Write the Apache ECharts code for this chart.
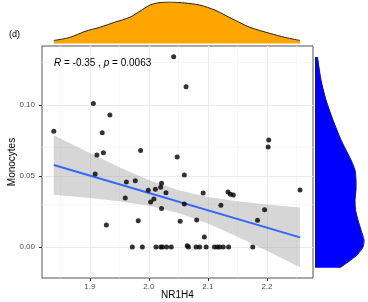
<!DOCTYPE html>
<html>
<head>
<meta charset="utf-8">
<script src="https://cdn.jsdelivr.net/npm/echarts@6/dist/echarts.min.js"></script>
<style>
html, body { margin: 0; padding: 0; background: #fff; }
#main { width: 368px; height: 302px; }
</style>
</head>
<body>
<div id="main"></div>
<script>
// 散点数据 (NR1H4 vs Monocytes)
var nr1h4 = [2.042, 1.906, 1.934, 1.839, 1.921, 1.986, 1.923, 1.912, 2.048, 2.063,
             2.203, 2.202, 1.909, 1.962, 1.977, 1.960, 1.999, 2.011, 2.020, 2.0215,
             2.029, 2.0085, 2.003, 2.0215, 1.928, 1.982, 1.972, 1.989, 2.012, 2.020,
             2.023, 2.030, 2.038, 2.060, 2.092, 2.134, 2.138, 2.143, 2.256, 2.060,
             2.122, 2.196, 2.053, 2.081, 2.184, 2.094, 2.065, 2.067, 2.080, 2.086,
             2.097, 2.111, 2.116, 2.120, 2.126, 2.135, 2.176];
var monocytes = [0.134, 0.101, 0.093, 0.0815, 0.0805, 0.068, 0.0664, 0.0648, 0.0633, 0.1129,
                 0.0754, 0.0704, 0.0514, 0.0458, 0.0467, 0.0345, 0.0399, 0.0406, 0.042, 0.0449,
                 0.0382, 0.0338, 0.0317, 0.0272, 0.0155, 0.0185, 0, 0, 0, 0,
                 0, 0, 0, 0.0507, 0.038, 0.0387, 0.0371, 0.0366, 0.0401, 0.0303,
                 0.0294, 0.0263, 0.0181, 0.019, 0.0188, 0.007, 0.0009, 0, 0, 0,
                 0, 0, 0, 0, 0, 0, 0];

// 回归线和置信带
var fitX = [1.839, 2.256];
var fitY = [0.0577, 0.0068];
var bandX = [1.839, 1.9, 1.95, 2.0, 2.05, 2.1, 2.15, 2.2, 2.256];
var bandLow = [0.0368, 0.0345, 0.0322, 0.0290, 0.0240, 0.0165, 0.0073, -0.0026, -0.0142];
var bandHigh = [0.0786, 0.0661, 0.0562, 0.0472, 0.0400, 0.0353, 0.0323, 0.0300, 0.0278];

// 边缘密度
var topDensX = [1.839, 1.866, 1.892, 1.917, 1.942, 1.968, 1.985, 2.002, 2.019, 2.036,
                2.061, 2.086, 2.112, 2.129, 2.146, 2.171, 2.205, 2.231, 2.256];
var topDensVal = [3, 6, 12, 16, 21, 26, 32, 38, 40.5, 41,
                  40, 38, 33, 28, 23, 16, 10, 6, 3];
var sideDensY = [0.1338, 0.1176, 0.1035, 0.0894, 0.0754, 0.0683, 0.0613, 0.0542, 0.0472, 0.0401,
                 0.0331, 0.0261, 0.0190, 0.0120, 0.0049, 0, -0.0056, -0.0106, -0.0146];
var sideDensVal = [2.5, 6, 11, 18, 26, 31, 36, 40, 41, 41,
                   40, 40.5, 43, 46, 49, 48, 42, 33, 25];

// 刻度
var xTicks = [1.9, 2.0, 2.1, 2.2];
var xMinor = [1.85, 1.95, 2.05, 2.15, 2.25];
var yTicks = [0, 0.05, 0.10];
var yMinor = [0.025, 0.075, 0.125];

var xMin = 1.819, xMax = 2.278;
var yMin = -0.0218, yMax = 0.1415;
var font = 'Liberation Sans, Arial, sans-serif';

var myChart = echarts.init(document.getElementById('main'));

var points = nr1h4.map(function (x, i) { return [x, monocytes[i]]; });
var band = bandX.map(function (x, i) { return [x, bandLow[i], bandHigh[i]]; });
var fit = fitX.map(function (x, i) { return [x, fitY[i]]; });
var topDens = topDensX.map(function (x, i) { return [x, topDensVal[i]]; });
var sideDens = sideDensY.map(function (y, i) { return [sideDensVal[i], y]; });

function gridLines(xs, ys) {
    return xs.map(function (v) { return { xAxis: v }; })
        .concat(ys.map(function (v) { return { yAxis: v }; }));
}

option = {
    animation: false,
    backgroundColor: '#fff',
    grid: [
        { left: 42, top: 46, width: 271, height: 232, outerBoundsMode: 'none', containLabel: false,
          show: true, borderColor: '#555', borderWidth: 1, backgroundColor: '#fff' },
        { left: 42, top: 2, width: 271, height: 41.5, outerBoundsMode: 'none', containLabel: false },
        { left: 315, top: 46, width: 53, height: 232, outerBoundsMode: 'none', containLabel: false }
    ],
    xAxis: [
        {
            gridIndex: 0, type: 'value', min: xMin, max: xMax,
            name: 'NR1H4', nameLocation: 'middle', nameGap: 12, nameMoveOverlap: false,
            nameTextStyle: { fontFamily: font, fontSize: 10, color: '#000' },
            axisLine: { show: false, onZero: false },
            splitLine: { show: false },
            axisTick: { show: true, customValues: xTicks, length: 3, lineStyle: { color: '#333' } },
            axisLabel: {
                customValues: xTicks, margin: 4.5, fontFamily: font, fontSize: 8, color: '#4d4d4d',
                formatter: function (v) { return v.toFixed(1); }
            }
        },
        { gridIndex: 1, type: 'value', min: xMin, max: xMax, show: false },
        { gridIndex: 2, type: 'value', min: 0, max: 53, show: false }
    ],
    yAxis: [
        {
            gridIndex: 0, type: 'value', min: yMin, max: yMax,
            name: 'Monocytes', nameLocation: 'middle', nameGap: 25, nameRotate: 90, nameMoveOverlap: false,
            nameTextStyle: { fontFamily: font, fontSize: 10, color: '#000' },
            axisLine: { show: false, onZero: false },
            splitLine: { show: false },
            axisTick: { show: true, customValues: yTicks, length: 3, lineStyle: { color: '#333' } },
            axisLabel: {
                customValues: yTicks, margin: 7, fontFamily: font, fontSize: 8, color: '#4d4d4d',
                formatter: function (v) { return v.toFixed(2); }
            }
        },
        { gridIndex: 1, type: 'value', min: 0, max: 41, show: false },
        { gridIndex: 2, type: 'value', min: yMin, max: yMax, show: false }
    ],
    graphic: [
        {
            type: 'text', left: 9, top: 30,
            style: { text: '(d)', fontFamily: font, fontSize: 9, fill: '#000' }
        },
        {
            type: 'text', left: 54, top: 58, z: 10,
            style: {
                text: '{i|R} = -0.35 , {i|p} = 0.0063',
                fontFamily: font, fontSize: 10, fill: '#000',
                rich: {
                    i: { fontStyle: 'italic', fontFamily: font, fontSize: 10, fill: '#000' }
                }
            }
        }
    ],
    series: [
        {
            // 置信带 (主网格线挂在这里)
            type: 'custom', xAxisIndex: 0, yAxisIndex: 0, z: 1, silent: true,
            data: band,
            renderItem: function (params, api) {
                if (params.dataIndex !== 0) return null;
                var up = band.map(function (d) { return api.coord([d[0], d[2]]); });
                var low = band.map(function (d) { return api.coord([d[0], d[1]]); }).reverse();
                return {
                    type: 'polygon',
                    shape: { points: up.concat(low) },
                    style: { fill: 'rgba(153,153,153,0.4)' }
                };
            },
            markLine: {
                z: 0, silent: true, symbol: ['none', 'none'], label: { show: false },
                lineStyle: { color: '#ebebeb', width: 1, type: 'solid' },
                data: gridLines(xTicks, yTicks)
            }
        },
        {
            // 回归线 (次网格线挂在这里)
            type: 'line', xAxisIndex: 0, yAxisIndex: 0, z: 2,
            data: fit, showSymbol: false, silent: true,
            lineStyle: { color: '#3366FF', width: 2 },
            markLine: {
                z: 0, silent: true, symbol: ['none', 'none'], label: { show: false },
                lineStyle: { color: '#f2f2f2', width: 0.6, type: 'solid' },
                data: gridLines(xMinor, yMinor)
            }
        },
        {
            type: 'scatter', xAxisIndex: 0, yAxisIndex: 0, z: 3,
            data: points, symbolSize: 5,
            itemStyle: { color: '#000' }
        },
        {
            // 上方密度
            type: 'line', xAxisIndex: 1, yAxisIndex: 1,
            data: topDens, smooth: 0.3, showSymbol: false, silent: true,
            lineStyle: { color: '#222', width: 1 },
            areaStyle: { color: '#FFA500', opacity: 1 }
        },
        {
            // 右侧密度
            type: 'custom', xAxisIndex: 2, yAxisIndex: 2, silent: true,
            data: sideDens,
            renderItem: function (params, api) {
                if (params.dataIndex !== 0) return null;
                var curve = sideDens.map(function (d) { return api.coord(d); });
                var top = api.coord([0, sideDens[0][1]]);
                var bottom = api.coord([0, sideDens[sideDens.length - 1][1]]);
                return {
                    type: 'group',
                    children: [
                        {
                            type: 'polygon',
                            shape: { points: [top].concat(curve).concat([bottom]) },
                            style: { fill: '#0000FF' }
                        },
                        {
                            type: 'polyline',
                            shape: { points: curve, smooth: 0.3 },
                            style: { stroke: '#222', lineWidth: 1, fill: null }
                        }
                    ]
                };
            }
        }
    ]
};

myChart.setOption(option, true);
</script>
</body>
</html>
